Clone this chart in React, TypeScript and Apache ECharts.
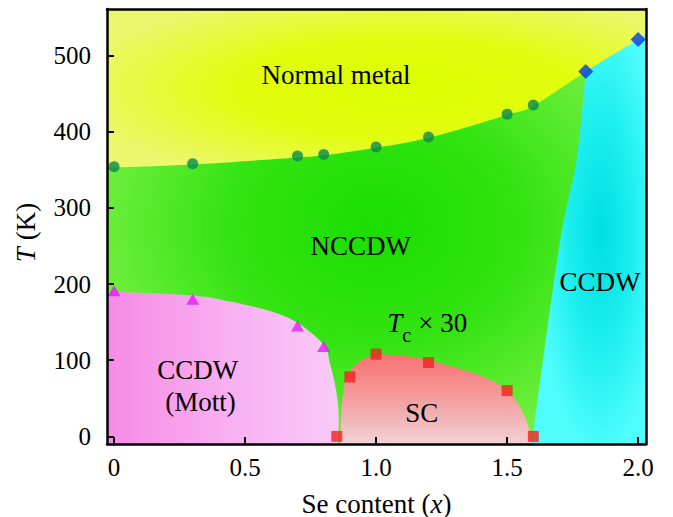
import React, { useEffect, useRef } from "react";
import * as echarts from "echarts";

// Axis ranges and ticks
const X_MIN = -0.027;
const X_MAX = 2.03;
const T_MIN = -10;
const T_MAX = 561;
const X_TICKS = [0, 0.5, 1.0, 1.5, 2.0];
const T_TICKS = [0, 100, 200, 300, 400, 500];

// Measured transitions
const cdwX = [0, 0.3, 0.7, 0.8, 1.0, 1.2, 1.5, 1.6];
const cdwT = [354, 358, 368, 370, 380, 393, 423, 435];
const mottX = [0, 0.3, 0.7, 0.8];
const mottT = [191, 180, 145, 118];
const scX = [0.85, 0.9, 1.0, 1.2, 1.5, 1.6];
const scT = [0, 78, 108, 97, 60, 0]; // Tc x 30
const ccdwX = [1.8, 2.0];
const ccdwT = [479, 521];

// Phase boundaries as [x, T]
const normalEdge = [
  [X_MIN, 352], [0, 353], [0.3, 357], [0.7, 366], [0.8, 369],
  [1.0, 379], [1.2, 392], [1.5, 422], [1.6, 434], [1.8, 479],
];
const ccdwTopEdge = [[1.8, 479], [2.0, 521], [X_MAX, 527]];
const ccdwLeftEdge = [[1.594, T_MIN], [1.697, 245], [1.765, 363], [1.8, 479]];
const mottEdge = [
  [X_MIN, 190], [0, 190], [0.3, 185], [0.443, 177], [0.6, 164], [0.7, 149],
  [0.8, 120], [0.824, 96], [0.847, 61], [0.857, 31], [0.856, 5], [0.855, T_MIN],
];
const scEdge = [
  [0.863, T_MIN], [0.866, 30], [0.875, 58], [0.888, 78], [0.926, 95], [0.977, 105],
  [1.05, 107], [1.2, 100], [1.41, 78], [1.51, 57], [1.562, 30], [1.588, 4], [1.59, T_MIN],
];

// Region labels
const regionLabels = [
  { text: "Normal metal", x: 0.847, T: 475 },
  { text: "NCCDW", x: 0.941, T: 250 },
  { text: "CCDW", x: 1.854, T: 202 },
  { text: "CCDW", x: 0.319, T: 87 },
  { text: "(Mott)", x: 0.33, T: 45 },
  { text: "SC", x: 1.174, T: 31 },
];
const tcLabel = { x: 1.043, T: 149 };

const FONT = "Liberation Serif";

function curveTo(pts: number[][]): string {
  let d = "";
  for (let i = 0; i < pts.length - 1; i++) {
    const p0 = pts[i - 1] || pts[i];
    const p1 = pts[i];
    const p2 = pts[i + 1];
    const p3 = pts[i + 2] || p2;
    const c1x = p1[0] + (p2[0] - p0[0]) / 6;
    const c1y = p1[1] + (p2[1] - p0[1]) / 6;
    const c2x = p2[0] - (p3[0] - p1[0]) / 6;
    const c2y = p2[1] - (p3[1] - p1[1]) / 6;
    d += ` C ${c1x} ${c1y} ${c2x} ${c2y} ${p2[0]} ${p2[1]}`;
  }
  return d;
}

function lineTo(pts: number[][]): string {
  return pts.map((p) => ` L ${p[0]} ${p[1]}`).join("");
}

export default function App() {
  const ref = useRef<HTMLDivElement>(null);

  useEffect(() => {
    if (!ref.current) return;
    const chart = echarts.init(ref.current, null, { renderer: "svg" });

    const renderItem = (params: any, api: any) => {
      if (params.dataIndex !== 0) return null;
      const c = (p: number[]) => api.coord(p);
      const tl = c([X_MIN, T_MAX]);
      const br = c([X_MAX, T_MIN]);

      const normalPath =
        `M ${tl[0]} ${tl[1]}` +
        lineTo([c(normalEdge[0])]) +
        curveTo(normalEdge.map(c)) +
        lineTo(ccdwTopEdge.slice(1).map(c)) +
        lineTo([c([X_MAX, T_MAX])]) +
        " Z";

      const top = ccdwTopEdge.map(c);
      const left = ccdwLeftEdge.map(c);
      const ccdwPath =
        `M ${top[0][0]} ${top[0][1]}` +
        lineTo(top.slice(1)) +
        lineTo([c([X_MAX, T_MIN])]) +
        lineTo([left[0]]) +
        curveTo(left) +
        " Z";

      const mott = mottEdge.map(c);
      const mottPath =
        `M ${c([X_MIN, T_MIN]).join(" ")}` + lineTo([mott[0]]) + curveTo(mott) + " Z";

      const sc = scEdge.map(c);
      const scPath = `M ${sc[0][0]} ${sc[0][1]}` + curveTo(sc) + " Z";

      const children: any[] = [
        {
          type: "rect",
          shape: { x: tl[0], y: tl[1], width: br[0] - tl[0], height: br[1] - tl[1] },
          style: {
            fill: new echarts.graphic.RadialGradient(0.5, 0.5, 0.6, [
              { offset: 0, color: "#1ade00" },
              { offset: 0.45, color: "#33e312" },
              { offset: 1, color: "#82f24a" },
            ]),
          },
        },
        {
          type: "path",
          shape: { pathData: normalPath },
          style: {
            fill: new echarts.graphic.RadialGradient(0.55, 0.5, 0.62, [
              { offset: 0, color: "#dcff00" },
              { offset: 0.5, color: "#e1fd0e" },
              { offset: 1, color: "#ecf76c" },
            ]),
          },
        },
        {
          type: "path",
          shape: { pathData: ccdwPath },
          style: {
            fill: new echarts.graphic.RadialGradient(0.6, 0.48, 0.55, [
              { offset: 0, color: "#00dfe0" },
              { offset: 0.5, color: "#1ceeee" },
              { offset: 1, color: "#50fdfd" },
            ]),
          },
        },
        {
          type: "path",
          shape: { pathData: mottPath },
          style: {
            fill: new echarts.graphic.LinearGradient(0, 0, 1, 0, [
              { offset: 0, color: "#f78ae6" },
              { offset: 0.5, color: "#f8aef0" },
              { offset: 1, color: "#f9caf8" },
            ]),
          },
        },
        {
          type: "path",
          shape: { pathData: scPath },
          style: {
            fill: new echarts.graphic.LinearGradient(0, 0, 0, 1, [
              { offset: 0, color: "#f87272" },
              { offset: 0.5, color: "#f49e9e" },
              { offset: 1, color: "#f0d2d6" },
            ]),
          },
        },
      ];

      regionLabels.forEach((l) => {
        const p = c([l.x, l.T]);
        children.push({
          type: "text",
          x: p[0],
          y: p[1],
          style: {
            text: l.text,
            fontFamily: FONT,
            fontSize: 27,
            fill: "#000",
            align: "center",
            verticalAlign: "middle",
          },
        });
      });

      const a = c([tcLabel.x, tcLabel.T]);
      children.push(
        {
          type: "text",
          x: a[0],
          y: a[1],
          style: {
            text: "T",
            fontFamily: FONT,
            fontStyle: "italic",
            fontSize: 27,
            fill: "#000",
            align: "left",
            verticalAlign: "middle",
          },
        },
        {
          type: "text",
          x: a[0] + 15,
          y: a[1] + 12,
          style: {
            text: "c",
            fontFamily: FONT,
            fontSize: 20,
            fill: "#000",
            align: "left",
            verticalAlign: "middle",
          },
        },
        {
          type: "text",
          x: a[0] + 31,
          y: a[1],
          style: {
            text: "× 30",
            fontFamily: FONT,
            fontSize: 27,
            fill: "#000",
            align: "left",
            verticalAlign: "middle",
          },
        }
      );

      return { type: "group", children };
    };

    const axisLine = { show: true, onZero: false, lineStyle: { color: "#000", width: 2.5 } };
    const labelStyle = { fontFamily: FONT, fontSize: 25, color: "#000" };

    chart.setOption({
      animation: false,
      textStyle: { fontFamily: FONT },
      grid: { left: 107, right: 27, top: 9, bottom: 73, outerBoundsMode: "none" },
      xAxis: [
        {
          type: "value",
          min: X_MIN,
          max: X_MAX,
          position: "bottom",
          z: 10,
          axisLine,
          axisTick: {
            show: true,
            inside: true,
            length: 7,
            customValues: X_TICKS,
            lineStyle: { color: "#000", width: 2 },
          },
          axisLabel: {
            ...labelStyle,
            margin: 11,
            customValues: X_TICKS,
            formatter: (v: number) => (v === 0 ? "0" : v.toFixed(1)),
          },
          splitLine: { show: false },
          name: "Se content ({i|x})",
          nameLocation: "middle",
          nameGap: 46,
          nameTextStyle: {
            fontFamily: FONT,
            fontSize: 27,
            color: "#000",
            rich: { i: { fontFamily: FONT, fontSize: 27, fontStyle: "italic", color: "#000" } },
          },
        },
        {
          type: "value",
          min: X_MIN,
          max: X_MAX,
          position: "top",
          z: 10,
          axisLine,
          axisTick: { show: false },
          axisLabel: { show: false },
          splitLine: { show: false },
        },
      ],
      yAxis: [
        {
          type: "value",
          min: T_MIN,
          max: T_MAX,
          position: "left",
          z: 10,
          axisLine,
          axisTick: {
            show: true,
            inside: true,
            length: 7,
            customValues: T_TICKS,
            lineStyle: { color: "#000", width: 2 },
          },
          axisLabel: { ...labelStyle, margin: 16, customValues: T_TICKS },
          splitLine: { show: false },
          name: "{i|T} (K)",
          nameLocation: "middle",
          nameGap: 68,
          nameTextStyle: {
            fontFamily: FONT,
            fontSize: 27,
            color: "#000",
            padding: [0, 12, 0, 0],
            rich: { i: { fontFamily: FONT, fontSize: 27, fontStyle: "italic", color: "#000" } },
          },
        },
        {
          type: "value",
          min: T_MIN,
          max: T_MAX,
          position: "right",
          z: 10,
          axisLine,
          axisTick: { show: false },
          axisLabel: { show: false },
          splitLine: { show: false },
        },
      ],
      series: [
        {
          type: "custom",
          silent: true,
          z: 1,
          renderItem,
          data: [[0, 0]],
        },
        {
          type: "scatter",
          z: 3,
          symbol: "circle",
          symbolSize: 11,
          itemStyle: { color: "#0a8a4e" },
          data: cdwX.map((x, i) => [x, cdwT[i]]),
        },
        {
          type: "scatter",
          z: 3,
          symbol: "triangle",
          symbolSize: [13, 11],
          itemStyle: { color: "#e01ef0" },
          data: mottX.map((x, i) => [x, mottT[i]]),
        },
        {
          type: "scatter",
          z: 3,
          symbol: "rect",
          symbolSize: 11,
          itemStyle: { color: "#f42222" },
          data: scX.map((x, i) => [x, scT[i]]),
        },
        {
          type: "scatter",
          z: 3,
          symbol: "diamond",
          symbolSize: 15,
          itemStyle: { color: "#0638e6" },
          data: ccdwX.map((x, i) => [x, ccdwT[i]]),
        },
      ],
    });

    return () => chart.dispose();
  }, []);

  return (
    <div
      ref={ref}
      style={{ position: "absolute", left: 0, top: 0, width: 673, height: 517 }}
    />
  );
}
